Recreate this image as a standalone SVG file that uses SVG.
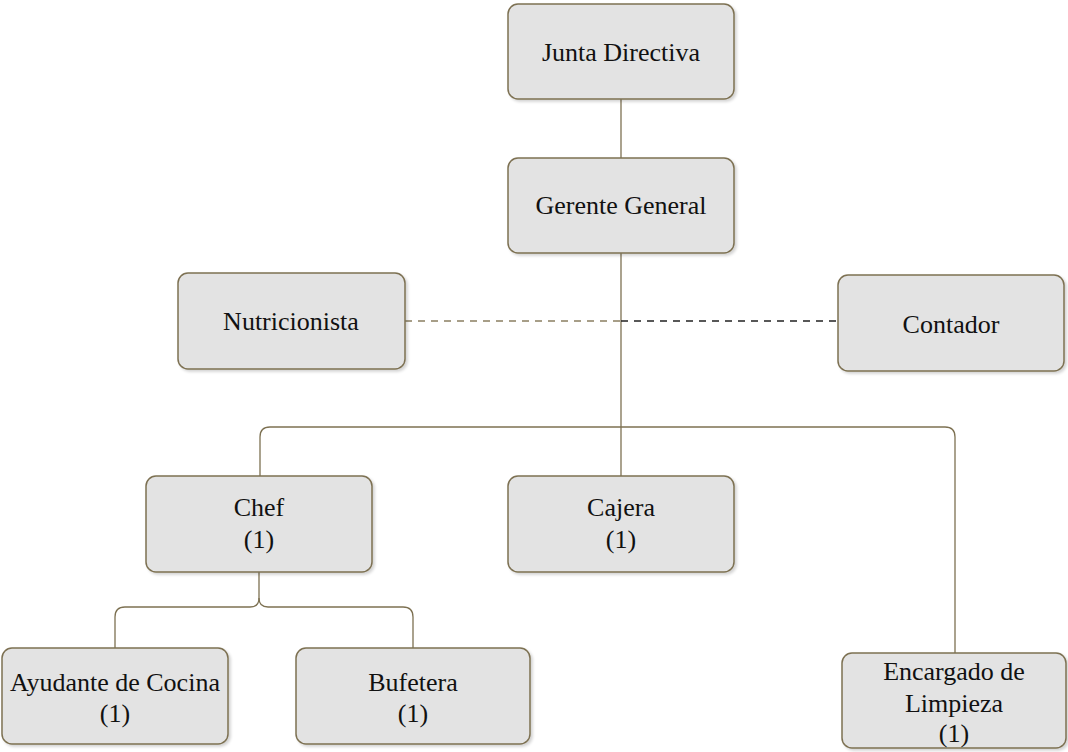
<svg xmlns="http://www.w3.org/2000/svg" width="1068" height="752" viewBox="0 0 1068 752">
  <defs>
    <filter id="shadow" x="-10%" y="-10%" width="125%" height="130%">
      <feGaussianBlur in="SourceAlpha" stdDeviation="1.5"/>
      <feOffset dx="2" dy="2" result="b"/>
      <feComponentTransfer><feFuncA type="linear" slope="0.18"/></feComponentTransfer>
      <feMerge><feMergeNode/><feMergeNode in="SourceGraphic"/></feMerge>
    </filter>
  </defs>
  <style>
    .box { fill: #e3e3e3; stroke: #7d7152; stroke-width: 1.5; filter: url(#shadow); }
    .lbl { font-family: "Liberation Serif", "Times New Roman", serif; font-size: 26px; fill: #111; text-anchor: middle; }
    .link { fill: none; stroke: #7d7152; stroke-width: 1.3; }
    .staff { fill: none; stroke: #8a7f62; stroke-width: 1.3; stroke-dasharray: 7 6; }
    .staff-dark { fill: none; stroke: #222; stroke-width: 1.3; stroke-dasharray: 7 6; }
  </style>
  <rect width="1068" height="752" fill="#ffffff"/>

  <!-- connectors -->
  <g id="connectors">
    <path class="link" d="M621 99 V158"/>
    <path class="link" d="M621 253 V476"/>
    <path class="staff" d="M405 321 H621"/>
    <path class="staff-dark" d="M621 321 H838"/>
    <path class="link" d="M260 476 V437 Q260 427 270 427 H945 Q955 427 955 437 V653"/>
    <path class="link" d="M259 572 V598 Q259 607 250 607 H125 Q115 607 115 617 V648"/>
    <path class="link" d="M259 598 Q259 607 268 607 H403 Q413 607 413 617 V648"/>
  </g>

  <g id="junta">
    <rect class="box" x="508" y="4" width="226" height="95" rx="10"/>
    <text class="lbl" x="621" y="61">Junta Directiva</text>
  </g>
  <g id="gerente">
    <rect class="box" x="508" y="158" width="226" height="95" rx="10"/>
    <text class="lbl" x="621" y="214">Gerente General</text>
  </g>
  <g id="nutricionista">
    <rect class="box" x="178" y="273" width="227" height="96" rx="10"/>
    <text class="lbl" x="291" y="330">Nutricionista</text>
  </g>
  <g id="contador">
    <rect class="box" x="838" y="275" width="226" height="96" rx="10"/>
    <text class="lbl" x="951" y="333">Contador</text>
  </g>
  <g id="chef">
    <rect class="box" x="146" y="476" width="226" height="96" rx="10"/>
    <text class="lbl" x="259" y="516">Chef</text>
    <text class="lbl" x="259" y="548">(1)</text>
  </g>
  <g id="cajera">
    <rect class="box" x="508" y="476" width="226" height="96" rx="10"/>
    <text class="lbl" x="621" y="516">Cajera</text>
    <text class="lbl" x="621" y="548">(1)</text>
  </g>
  <g id="ayudante">
    <rect class="box" x="2" y="648" width="226" height="96" rx="10"/>
    <text class="lbl" x="115" y="691">Ayudante de Cocina</text>
    <text class="lbl" x="115" y="722">(1)</text>
  </g>
  <g id="bufetera">
    <rect class="box" x="296" y="648" width="234" height="96" rx="10"/>
    <text class="lbl" x="413" y="691">Bufetera</text>
    <text class="lbl" x="413" y="722">(1)</text>
  </g>
  <g id="encargado">
    <rect class="box" x="842" y="653" width="224" height="95" rx="10"/>
    <text class="lbl" x="954" y="680">Encargado de</text>
    <text class="lbl" x="954" y="712">Limpieza</text>
    <text class="lbl" x="954" y="742">(1)</text>
  </g>
</svg>
